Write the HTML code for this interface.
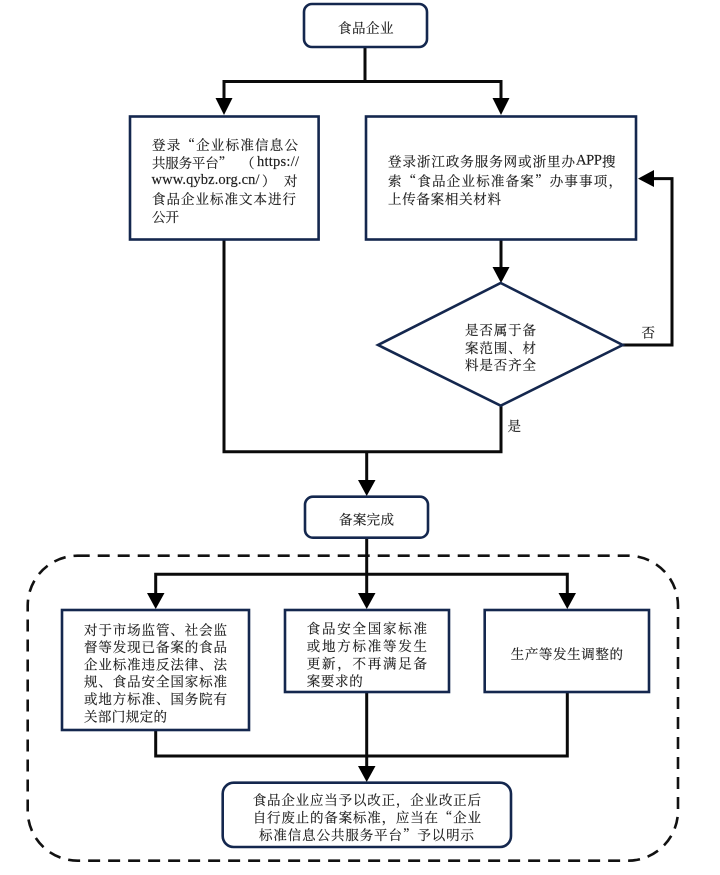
<!DOCTYPE html>
<html lang="zh"><head><meta charset="utf-8"><title>食品企业标准备案流程</title>
<style>
html,body{margin:0;padding:0;background:#fff;width:720px;height:875px;overflow:hidden}
svg{display:block;filter:blur(.3px)}
text{font-family:"Noto Serif CJK SC","Liberation Serif",serif;font-size:13.5px;fill:#1c1c1c;stroke:#1c1c1c;stroke-width:.15;dominant-baseline:central}
.l{font-family:"Liberation Serif","Noto Serif CJK SC",serif;font-size:14.5px}
.b{fill:#fff;stroke:#14274e;stroke-width:2.6}
.c{fill:none;stroke:#0a0a0a;stroke-width:3}
.a{fill:#000}
</style></head><body>
<svg width="720" height="875" viewBox="0 0 720 875" xmlns="http://www.w3.org/2000/svg">
<rect x="27.7" y="555.7" width="650.3" height="305" rx="50" ry="50" fill="none" stroke="#111" stroke-width="2.6" stroke-dasharray="12 8"/>
<path class="c" d="M365 47V81.5M224 98V81.5H501V98"/>
<path class="c" d="M224 240V451.7H501V405M366.7 451.7V481"/>
<path class="c" d="M501 240V268"/>
<path class="c" d="M622 345H672V178.6H654"/>
<path class="c" d="M366.7 538V594M155.7 594V574.3H567.3V594"/>
<path class="c" d="M155.7 730V756H567.3V692M366.7 692V767"/>
<g class="a">
<polygon points="215.5,98 232.5,98 224,115"/>
<polygon points="492.5,98 509.5,98 501,115"/>
<polygon points="492.5,267 509.5,267 501,283"/>
<polygon points="358,480 375.5,480 366.7,496"/>
<polygon points="654,170 654,187 638,178.6"/>
<polygon points="147,593 164.5,593 155.7,609"/>
<polygon points="358,593 375.5,593 366.7,609"/>
<polygon points="558.5,593 576,593 567.3,609"/>
<polygon points="358,766 375.5,766 366.7,782"/>
</g>
<rect class="b" x="304" y="4" width="123" height="43" rx="8"/>
<rect class="b" x="130" y="116.5" width="188.6" height="123"/>
<rect class="b" x="366" y="116.5" width="270" height="123"/>
<polygon class="b" points="500.7,283 622.7,345 500.7,405.7 378,345"/>
<rect class="b" x="305" y="496.7" width="123" height="41" rx="8"/>
<rect class="b" x="62" y="610" width="187" height="120"/>
<rect class="b" x="285" y="610" width="164" height="82"/>
<rect class="b" x="484.7" y="610" width="164.3" height="82"/>
<rect class="b" x="222.7" y="782.7" width="288.3" height="64.3" rx="11"/>

<text x="338" y="27" textLength="55.5" lengthAdjust="spacing">食品企业</text>
<text x="152" y="144" textLength="146" lengthAdjust="spacing">登录“企业标准信息公</text>
<text x="152" y="162" textLength="80" lengthAdjust="spacing">共服务平台”</text>
<text x="241" y="162">（</text>
<text class="l" x="257" y="162" textLength="42" lengthAdjust="spacing">https://</text>
<text class="l" x="151.5" y="180" textLength="108" lengthAdjust="spacing">www.qybz.org.cn/</text>
<text x="262" y="180">）</text>
<text x="284" y="180">对</text>
<text x="152" y="198" textLength="144" lengthAdjust="spacing">食品企业标准文本进行</text>
<text x="152" y="216" textLength="27" lengthAdjust="spacing">公开</text>
<text x="388" y="160.7" textLength="187" lengthAdjust="spacing">登录浙江政务服务网或浙里办</text>
<text class="l" x="576" y="160.7" textLength="26" lengthAdjust="spacing">APP</text>
<text x="602" y="160.7">搜</text>
<text x="388" y="180" textLength="234" lengthAdjust="spacing">索“食品企业标准备案”办事事项，</text>
<text x="388" y="198" textLength="113" lengthAdjust="spacing">上传备案相关材料</text>
<text x="465" y="329" textLength="71" lengthAdjust="spacing">是否属于备</text>
<text x="465" y="347" textLength="71" lengthAdjust="spacing">案范围、材</text>
<text x="465" y="364" textLength="71" lengthAdjust="spacing">料是否齐全</text>
<text x="641.5" y="331.7">否</text>
<text x="507.5" y="425">是</text>
<text x="339" y="518.7" textLength="55" lengthAdjust="spacing">备案完成</text>
<text x="84" y="629" textLength="143" lengthAdjust="spacing">对于市场监管、社会监</text>
<text x="84" y="646" textLength="143" lengthAdjust="spacing">督等发现已备案的食品</text>
<text x="84" y="663.3" textLength="143" lengthAdjust="spacing">企业标准违反法律、法</text>
<text x="84" y="680.7" textLength="143" lengthAdjust="spacing">规、食品安全国家标准</text>
<text x="84" y="698" textLength="143" lengthAdjust="spacing">或地方标准、国务院有</text>
<text x="84" y="715.7" textLength="83" lengthAdjust="spacing">关部门规定的</text>
<text x="306.7" y="627.7" textLength="120.3" lengthAdjust="spacing">食品安全国家标准</text>
<text x="306.7" y="645" textLength="120.3" lengthAdjust="spacing">或地方标准等发生</text>
<text x="306.7" y="662.7" textLength="120.3" lengthAdjust="spacing">更新，不再满足备</text>
<text x="306.7" y="680" textLength="56" lengthAdjust="spacing">案要求的</text>
<text x="510.7" y="653" textLength="112.3" lengthAdjust="spacing">生产等发生调整的</text>
<text x="252.7" y="799" textLength="228.3" lengthAdjust="spacing">食品企业应当予以改正，企业改正后</text>
<text x="252.7" y="816.7" textLength="228.3" lengthAdjust="spacing">自行废止的备案标准，应当在“企业</text>
<text x="259" y="834" textLength="215" lengthAdjust="spacing">标准信息公共服务平台”予以明示</text>
</svg>
</body></html>
